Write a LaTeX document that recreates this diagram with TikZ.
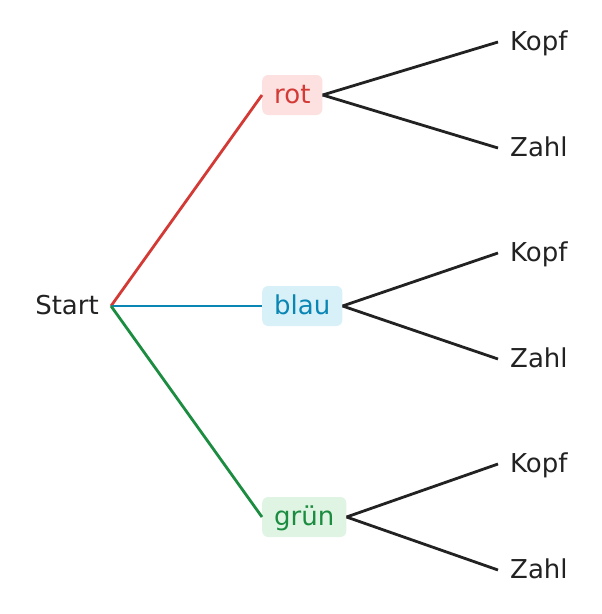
\documentclass[tikz,border=0pt]{standalone}
\usepackage{fontspec}
\setmainfont{DejaVu Sans}
\usetikzlibrary{positioning}
\definecolor{ink}{HTML}{222222}
\definecolor{rotline}{HTML}{D33A35}
\definecolor{rotfill}{HTML}{FDE1E1}
\definecolor{blauline}{HTML}{0A86B5}
\definecolor{blaufill}{HTML}{D8F0F8}
\definecolor{gruenline}{HTML}{1B8C40}
\definecolor{gruenfill}{HTML}{E0F4E4}
\begin{document}
\begin{tikzpicture}[x=1pt,y=-1pt,
    every node/.style={font=\fontsize{26}{30}\selectfont, text=ink,
        text height=20pt, text depth=3pt, inner ysep=8.5pt, inner xsep=12pt},
    every edge/.append style={line width=2.8pt},
    box/.style={rounded corners=6pt}]
                \useasboundingbox (0,0) rectangle (602,614);
                \node (s) [anchor=east] at (111,306) {Start};
                \node (r) [box, fill=rotfill, text=rotline, above right=211pt and 151pt of s.east, anchor=west] {rot};
                \node (b) [box, fill=blaufill, text=blauline, right=151pt of s.east, anchor=west] {blau};
                \node (g) [box, fill=gruenfill, text=gruenline, below right=211pt and 151pt of s.east, anchor=west] {grün};
                
                \node (rk) [above right=53pt and 236pt of r.west, anchor=west] {Kopf};
                \node (rz) [below right=53pt and 236pt of r.west, anchor=west] {Zahl};
                \node (bk) [above right=53pt and 236pt of b.west, anchor=west] {Kopf};
                \node (bz) [below right=53pt and 236pt of b.west, anchor=west] {Zahl};
                \node (gk) [above right=53pt and 236pt of g.west, anchor=west] {Kopf};
                \node (gz) [below right=53pt and 236pt of g.west, anchor=west] {Zahl};
                
                \path
                (s.east) edge [rotline] (r.west)
                (s.east) edge [blauline] (b.west)
                (s.east) edge [gruenline] (g.west)
                (r.east) edge [ink] (rk.west)
                (r.east) edge [ink] (rz.west)
                (b.east) edge [ink] (bk.west)
                (b.east) edge [ink] (bz.west)
                (g.east) edge [ink] (gk.west)
                (g.east) edge [ink] (gz.west);
            \end{tikzpicture}
\end{document}
